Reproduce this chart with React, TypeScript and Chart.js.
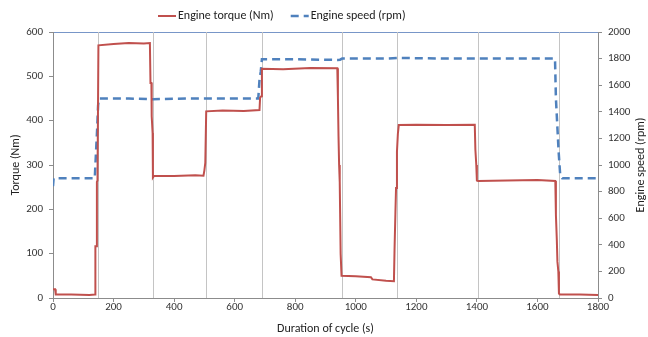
import React, { useEffect, useRef } from "react";
import { Chart, registerables } from "chart.js";

Chart.register(...registerables);

// Duration of cycle (s) and engine torque (Nm)
const torqueTime = [0, 7, 9, 60, 120, 139, 140, 144, 145, 147, 150, 200, 250, 300, 320, 322, 325, 326, 329, 330, 333, 400, 470, 497, 500, 503, 506, 560, 630, 682, 684, 688, 690, 760, 850, 939, 941, 943, 945, 947, 950, 953, 1000, 1050, 1055, 1100, 1126, 1128, 1131, 1133, 1136, 1139, 1142, 1200, 1300, 1393, 1395, 1398, 1400, 1404, 1500, 1600, 1659, 1661, 1664, 1666, 1669, 1671, 1674, 1740, 1800];
const torqueValues = [20, 20, 8, 8, 7, 8, 117, 117, 262, 265, 570, 573, 575, 574, 575, 485, 485, 410, 372, 272, 275, 275, 277, 276, 288, 305, 421, 423, 422, 424, 452, 455, 517, 516, 519, 518, 452, 364, 300, 262, 100, 50, 49, 47, 42, 39, 38, 108, 195, 248, 330, 370, 390, 391, 390, 391, 335, 300, 265, 264, 265, 266, 264, 187, 131, 82, 60, 10, 8, 8, 7];

// Duration of cycle (s) and engine speed (rpm)
const speedTime = [0, 2, 60, 138, 140, 143, 146, 149, 152, 250, 330, 450, 600, 678, 682, 686, 690, 800, 940, 948, 955, 1100, 1140, 1300, 1500, 1658, 1661, 1670, 1675, 1682, 1750, 1800];
const speedValues = [840, 900, 900, 900, 1000, 1140, 1280, 1450, 1500, 1500, 1495, 1500, 1500, 1500, 1640, 1700, 1795, 1795, 1790, 1792, 1800, 1800, 1805, 1800, 1800, 1800, 1500, 1100, 930, 900, 900, 900];

// Phase boundaries (s)
const phaseBounds = [149, 330, 505, 690, 954, 1136, 1404, 1671];

const seriesLabels = ["Engine torque (Nm)", "Engine speed (rpm)"];
const xTitle = "Duration of cycle (s)";
const yTitle = "Torque (Nm)";
const y1Title = "Engine speed (rpm)";

const FONT = "Carlito, Lato, sans-serif";
const RED = "#c0504d";
const BLUE = "#4f81bd";

const plain = (v: any) => String(v);

export default function App() {
  const ref = useRef<HTMLCanvasElement>(null);

  useEffect(() => {
    document.body.style.margin = "0";
    const phasePlugin = {
      id: "phases",
      beforeDatasetsDraw(chart: any) {
        const { ctx, chartArea, scales } = chart;
        ctx.save();
        ctx.strokeStyle = "#c4c4c4";
        ctx.lineWidth = 1;
        for (const t of phaseBounds) {
          const x = Math.round(scales.x.getPixelForValue(t)) + 0.5;
          ctx.beginPath();
          ctx.moveTo(x, chartArea.top);
          ctx.lineTo(x, chartArea.bottom);
          ctx.stroke();
        }
        ctx.restore();
      },
    };
    const extrasPlugin = {
      id: "extras",
      afterDraw(chart: any) {
        const { ctx, chartArea } = chart;
        ctx.save();
        // right axis title, reading bottom to top
        ctx.font = `12px ${FONT}`;
        ctx.fillStyle = "#222";
        ctx.textAlign = "center";
        ctx.textBaseline = "middle";
        ctx.translate(641, (chartArea.top + chartArea.bottom) / 2);
        ctx.rotate(-Math.PI / 2);
        ctx.fillText(y1Title, 0, 0);
        ctx.restore();

        // legend
        ctx.save();
        ctx.font = `12px ${FONT}`;
        ctx.fillStyle = "#222";
        ctx.textBaseline = "middle";
        ctx.textAlign = "left";
        const y = 16;
        let x = 158;
        const ds = chart.data.datasets;
        for (let i = 0; i < ds.length; i++) {
          ctx.strokeStyle = ds[i].borderColor;
          ctx.lineWidth = ds[i].borderWidth;
          ctx.setLineDash(ds[i].borderDash || []);
          ctx.beginPath();
          ctx.moveTo(x, y);
          ctx.lineTo(x + 18, y);
          ctx.stroke();
          ctx.setLineDash([]);
          x += 20;
          ctx.fillText(ds[i].label, x, y);
          x += ctx.measureText(ds[i].label).width + 17;
        }
        ctx.restore();
      },
    };

    const chart = new Chart(ref.current as HTMLCanvasElement, {
      type: "line",
      data: {
        datasets: [
          {
            label: seriesLabels[0],
            data: torqueTime.map((t, i) => ({ x: t, y: torqueValues[i] })),
            borderColor: RED,
            backgroundColor: RED,
            borderWidth: 2,
            pointRadius: 0,
            tension: 0,
            yAxisID: "y",
          },
          {
            label: seriesLabels[1],
            data: speedTime.map((t, i) => ({ x: t, y: speedValues[i] })),
            borderColor: BLUE,
            backgroundColor: BLUE,
            borderWidth: 2.5,
            borderDash: [8, 5],
            pointRadius: 0,
            tension: 0,
            yAxisID: "y1",
          },
        ],
      },
      options: {
        animation: false,
        responsive: false,
        maintainAspectRatio: false,
        layout: { padding: { top: 32, left: 0, right: 0, bottom: 0 } },
        plugins: {
          legend: { display: false },
          tooltip: { enabled: false },
        },
        scales: {
          x: {
            type: "linear",
            min: 0,
            max: 1800,
            afterFit: (s: any) => { s.height = 39; },
            ticks: { stepSize: 200, color: "#333", font: { family: FONT, size: 11 }, padding: -1, maxRotation: 0, callback: plain },
            grid: { drawOnChartArea: false, drawTicks: true, tickLength: 4, tickColor: "#8c8c8c" },
            border: { display: true, color: "#8c8c8c" },
            title: { display: true, text: xTitle, color: "#222", font: { family: FONT, size: 12 }, padding: { top: 0, bottom: 1 } },
          },
          y: {
            position: "left",
            min: 0,
            max: 600,
            afterFit: (s: any) => { s.width = 53; },
            ticks: { stepSize: 100, color: "#333", font: { family: FONT, size: 11 }, padding: 6, callback: plain },
            grid: {
              drawOnChartArea: true,
              drawTicks: true,
              tickLength: 4,
              tickColor: "#8c8c8c",
              color: (c: any) => (c.tick && c.tick.value === 600 ? "#7896c8" : "rgba(0,0,0,0)"),
            },
            border: { display: true, color: "#8c8c8c" },
            title: { display: true, text: yTitle, color: "#222", font: { family: FONT, size: 12 }, padding: { top: 9, bottom: 0 } },
          },
          y1: {
            position: "right",
            min: 0,
            max: 2000,
            afterFit: (s: any) => { s.width = 50; },
            ticks: { stepSize: 200, color: "#333", font: { family: FONT, size: 11 }, padding: 6, callback: plain },
            grid: { drawOnChartArea: false, drawTicks: true, tickLength: 4, tickColor: "#8c8c8c" },
            border: { display: true, color: "#8c8c8c" },
          },
        },
      },
      plugins: [phasePlugin, extrasPlugin],
    });
    return () => chart.destroy();
  }, []);

  return (
    <div style={{ width: 648, height: 337, background: "#fff" }}>
      <canvas ref={ref} width={648} height={337} style={{ display: "block" }} />
    </div>
  );
}
